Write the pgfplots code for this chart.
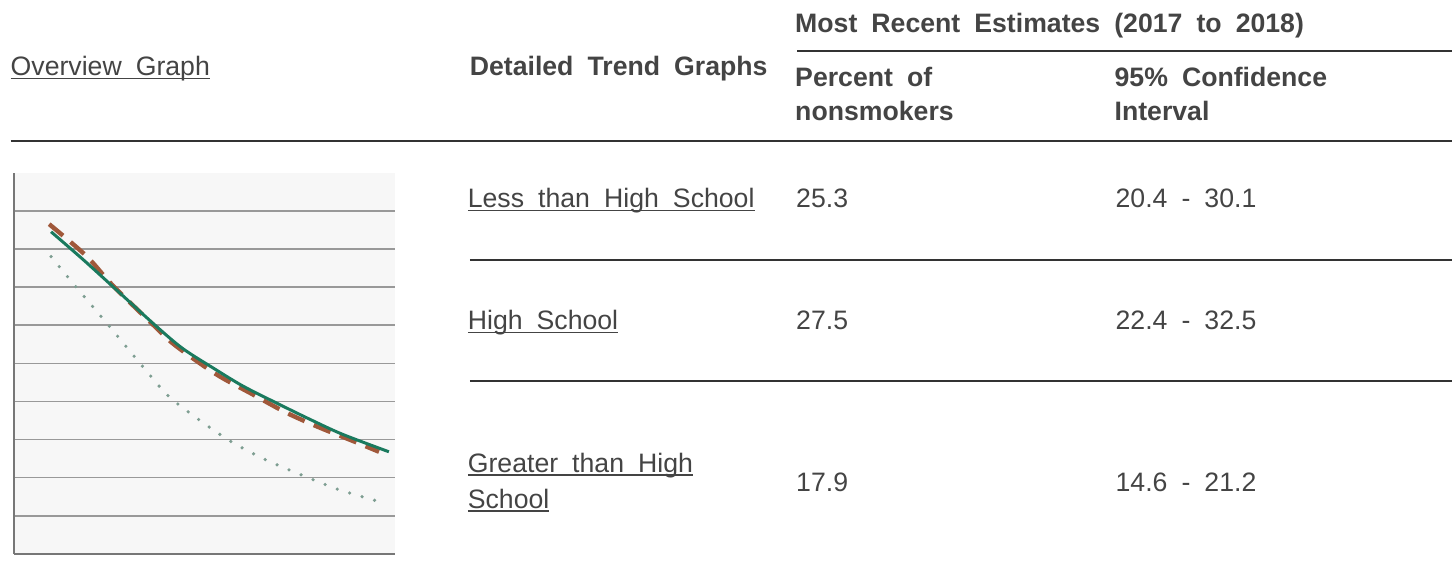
\documentclass[border=0pt]{standalone}
\usepackage{pgfplots}
\pgfplotsset{compat=1.18}
\usepackage{fontspec}
\setmainfont{Liberation Sans}[WordSpace=1.9]
\definecolor{txt}{HTML}{444444}
\definecolor{rule}{HTML}{333333}
\definecolor{axisgray}{HTML}{777777}
\definecolor{gridgray}{HTML}{999999}
\definecolor{bggray}{HTML}{F7F7F7}
\definecolor{lgreen}{HTML}{1A7A5E}
\definecolor{lbrown}{HTML}{A0583A}
\definecolor{ldots}{HTML}{7E9E92}
\begin{document}
\begin{tikzpicture}
\begin{axis}[
  at={(5.5pt,14.5pt)}, anchor=south west,
  width=191pt, height=191pt, scale only axis,
  xmin=0, xmax=100, ymin=0, ymax=100,
  axis x line=bottom, axis y line=left,
  axis line style={-, line width=1pt, draw=axisgray},
  xtick=\empty, ytick={10,20,...,90}, yticklabels={},
  major tick length=0pt,
  ymajorgrids, grid style={line width=0.7pt, draw=gridgray},
  axis background/.style={fill=bggray},
  clip=false,
]
\addplot[ldots, line width=1.8pt, line cap=round, dash pattern=on 0pt off 6.5pt, smooth] coordinates {
 (9.8,78.0) (16.3,70.1) (25.1,59.7) (33.8,49.2) (40.5,41.5) (48.6,35.2) (57.1,29.4) (66.1,24.7) (75.5,20.7) (85.2,16.9) (94.9,14.0)};
\addplot[lbrown, line width=2.2pt, dash pattern=on 9pt off 5pt, smooth] coordinates {
 (9.3,86.5) (19.0,78.2) (25.9,70.5) (37.3,59.4) (42.5,54.6) (53.0,47.2) (62.6,41.9) (71.4,37.1) (80.1,33.2) (88.8,29.7) (95.8,26.8)};
\addplot[lgreen, line width=1.5pt, smooth] coordinates {
 (9.8,84.5) (18.1,77.3) (26.8,69.4) (37.3,59.8) (44.3,53.9) (52.1,48.9) (60.0,44.1) (68.7,39.7) (77.5,35.4) (86.2,31.4) (98.4,26.8)};
\end{axis}
\begin{scope}[x=0.5pt, y=-0.5pt, shift={(0pt,292pt)},
  T/.style={inner sep=0pt, outer sep=0pt, anchor=base west, text=txt, font=\fontsize{13.35pt}{17pt}\selectfont},
  B/.style={T, font=\fontsize{13.35pt}{17pt}\selectfont\bfseries},
  U/.style={txt, line width=0.65pt},
  R/.style={rule, line width=1pt}]
\useasboundingbox (0,0) rectangle (1452,584);
% header
\node[T] (ov) at (8,76) {Overview Graph};
\draw[U] ([yshift=-1.5pt]ov.base west) -- ([yshift=-1.5pt]ov.base east);
\node[B] at (468,76) {Detailed Trend Graphs};
\node[B] at (794,33) {Most Recent Estimates (2017 to 2018)};
\draw[R] (796,51) -- (1452,51);
\node[B] at (794,87) {Percent of};
\node[B] at (794,121) {nonsmokers};
\node[B] at (1114,87) {95\% Confidence};
\node[B] at (1114,121) {Interval};
\draw[R] (8,141) -- (1452,141);
% row 1
\node[T] (r1) at (466,208) {Less than High School};
\draw[U] ([yshift=-1.5pt]r1.base west) -- ([yshift=-1.5pt]r1.base east);
\node[T] at (795,208) {25.3};
\node[T] at (1115,208) {20.4 - 30.1};
\draw[R] (468,260) -- (1452,260);
% row 2
\node[T] (r2) at (466,330) {High School};
\draw[U] ([yshift=-1.5pt]r2.base west) -- ([yshift=-1.5pt]r2.base east);
\node[T] at (795,330) {27.5};
\node[T] at (1115,330) {22.4 - 32.5};
\draw[R] (468,382) -- (1452,382);
% row 3
\node[T] (r3a) at (466,473) {Greater than High};
\draw[U] ([yshift=-1.5pt]r3a.base west) -- ([yshift=-1.5pt]r3a.base east);
\node[T] (r3b) at (466,509) {School};
\draw[U] ([yshift=-1.5pt]r3b.base west) -- ([yshift=-1.5pt]r3b.base east);
\node[T] at (795,492) {17.9};
\node[T] at (1115,492) {14.6 - 21.2};
\end{scope}
\end{tikzpicture}
\end{document}
